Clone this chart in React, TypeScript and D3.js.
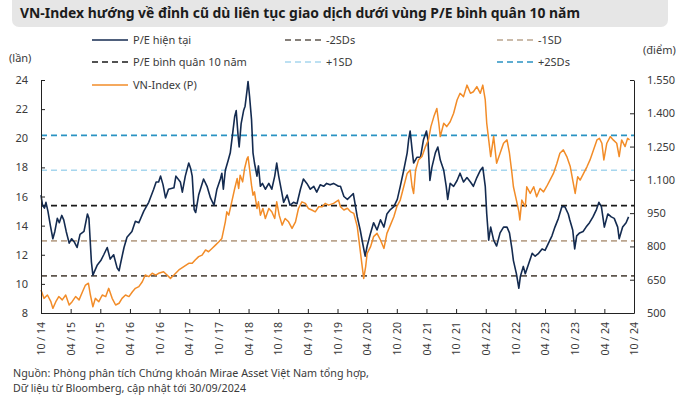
import { useEffect, useRef } from 'react'
import * as d3 from 'd3'

// months counted from 10/2014
const xTickLabels = [
  '10 / 14', '04 / 15', '10 / 15', '04 / 16', '10 / 16', '04 / 17', '10 / 17',
  '04 / 18', '10 / 18', '04 / 19', '10 / 19', '04 / 20', '10 / 20', '04 / 21',
  '10 / 21', '04 / 22', '10 / 22', '04 / 23', '10 / 23', '04 / 24', '10 / 24',
]
const leftTicks = [8, 10, 12, 14, 16, 18, 20, 22, 24]
const rightTicks = [500, 650, 800, 950, 1100, 1250, 1400, 1550]

// P/E bands
const bandValues = [10.55, 12.95, 15.37, 17.8, 20.2]
const bandNames = ['-2SDs', '-1SD', 'P/E bình quân 10 năm', '+1SD', '+2SDs']
const bandColors = ['#5e554d', '#bba58f', '#1a1a1a', '#a6d6ee', '#2a93c2']

// [month, P/E]
const peSeries: [number, number][] = [
  [0, 16.1], [0.3, 15.4], [0.7, 15.2], [1, 15.6], [1.4, 15.0], [1.9, 14.0], [2.4, 13.1], [2.8, 13.6],
  [3.3, 14.5], [3.7, 14.2], [4.2, 14.7], [4.6, 14.4], [5.1, 13.6], [5.7, 12.8], [6.2, 13.1], [6.7, 12.9],
  [7.3, 12.5], [7.9, 13.4], [8.7, 13.6], [9.4, 14.8], [9.7, 14.5], [10.2, 11.5], [10.5, 10.6], [11.4, 11.3],
  [12.1, 11.6], [12.7, 12.0], [13.4, 12.5], [14, 11.7], [14.7, 12.0], [15.4, 11.1], [15.8, 10.9], [16.1, 11.4],
  [16.8, 12.5], [17.4, 13.2], [18.4, 13.6], [19.1, 14.3], [19.8, 14.2], [20.8, 15.0], [21.8, 15.6], [22.8, 16.5],
  [23.3, 17.0], [23.8, 17.0], [24.2, 17.4], [24.7, 16.8], [25.2, 15.9], [25.8, 16.5], [26.9, 16.6], [27.3, 17.4],
  [28.2, 17.0], [28.6, 16.3], [29.2, 17.4], [29.9, 18.3], [30.3, 17.9], [30.6, 17.4], [31, 15.1], [31.3, 14.9],
  [31.9, 16.1], [32.9, 17.2], [33.6, 16.7], [34.3, 15.9], [35, 15.4], [35.6, 16.5], [36.3, 17.2], [36.6, 17.6],
  [36.9, 16.5], [37.3, 17.8], [37.9, 18.5], [38.3, 19.0], [38.7, 20.1], [39.2, 21.5], [39.5, 21.9], [39.9, 20.1],
  [40.1, 19.4], [40.5, 21.0], [41, 21.9], [41.3, 22.2], [41.7, 23.3], [41.9, 23.9], [42.2, 22.9], [42.6, 21.3],
  [42.9, 19.0], [43.2, 18.3], [43.7, 17.4], [44, 18.1], [44.4, 16.7], [44.8, 16.9], [45.4, 16.5], [46.1, 16.9],
  [46.7, 16.5], [47.3, 17.4], [47.7, 18.3], [48.1, 17.4], [48.6, 16.5], [49.1, 15.6], [49.8, 16.1], [50.4, 15.4],
  [51.1, 15.6], [51.8, 15.5], [52.5, 16.5], [53.1, 17.2], [53.8, 16.9], [54.5, 16.5], [55.2, 16.7], [55.8, 16.3],
  [56.5, 16.8], [57.2, 16.7], [57.8, 16.9], [58.5, 16.8], [59.2, 16.9], [60.2, 16.7], [60.6, 16.7], [61.3, 16.0],
  [62, 15.8], [62.6, 16.0], [63.2, 16.2], [63.4, 15.8], [64, 14.6], [64.6, 13.7], [65.2, 12.6], [65.6, 11.9],
  [66, 12.6], [66.7, 13.5], [67.3, 14.2], [68, 13.7], [68.7, 14.4], [69.4, 13.9], [70, 14.8], [70.7, 15.1],
  [71.4, 15.3], [72.1, 15.8], [72.7, 16.7], [73.4, 17.8], [74.1, 19.0], [74.4, 19.9], [74.7, 20.5], [75.1, 19.2],
  [75.4, 18.3], [76.1, 18.7], [76.8, 18.7], [77.4, 19.9], [78, 20.5], [78.3, 19.9], [78.7, 17.1], [79.1, 18.0],
  [79.8, 19.0], [80.3, 19.4], [80.8, 18.5], [81.5, 17.8], [82, 16.7], [82.3, 15.8], [82.8, 16.9], [83.5, 16.7],
  [84.2, 17.1], [84.8, 17.6], [85.5, 17.0], [86.2, 17.3], [86.9, 17.0], [87.5, 16.7], [88.2, 17.3], [88.9, 17.8],
  [89.4, 18.0], [89.9, 16.7], [90.2, 14.8], [90.6, 13.0], [91, 13.9], [91.6, 13.0], [92.2, 12.6], [92.9, 13.5],
  [93.6, 13.9], [94.3, 13.9], [94.8, 13.5], [95.3, 12.4], [95.6, 11.6], [96.2, 10.7], [96.7, 9.7], [97, 10.5],
  [97.6, 11.2], [98, 10.7], [98.7, 11.4], [99.4, 12.1], [100, 11.9], [100.7, 12.1], [101.4, 12.4], [102, 12.3],
  [102.7, 12.8], [103.4, 13.3], [104, 13.9], [104.7, 14.5], [105.4, 15.3], [106, 15.3], [106.7, 14.8], [107, 14.4],
  [107.6, 13.7], [108, 12.4], [108.4, 13.3], [109, 13.5], [109.7, 13.6], [110.3, 13.9], [111, 14.2], [111.7, 14.6],
  [112.4, 15.1], [112.9, 15.6], [113.4, 15.3], [114, 13.9], [114.7, 14.8], [115.4, 14.6], [116, 14.5], [116.7, 13.9],
  [117, 13.1], [117.7, 13.9], [118.4, 14.2], [118.9, 14.6],
]

// [month, VN-Index points]
const vnSeries: [number, number][] = [
  [0, 604], [0.6, 566], [1.3, 581], [2, 551], [2.4, 521], [3, 551], [3.6, 574], [4.3, 559],
  [5, 581], [5.7, 536], [6.3, 551], [7, 574], [7.7, 559], [8.4, 596], [9, 626], [9.6, 634],
  [10, 581], [10.5, 528], [11, 566], [11.7, 551], [12.4, 581], [13.1, 574], [13.7, 611], [14.4, 566],
  [15.1, 536], [15.8, 544], [16.4, 566], [17.1, 581], [17.8, 574], [18.5, 596], [19.1, 611], [19.8, 619],
  [20.5, 641], [21.1, 671], [21.8, 664], [22.5, 679], [23.2, 671], [23.8, 679], [24.8, 686], [25.5, 671],
  [26.2, 656], [26.9, 671], [27.9, 694], [28.9, 709], [29.9, 724], [30.6, 724], [31.2, 739], [31.9, 754],
  [32.6, 761], [33.3, 784], [33.9, 776], [34.6, 791], [35.3, 806], [36, 821], [36.6, 836], [37.3, 911],
  [37.6, 956], [38, 941], [38.6, 1001], [39.2, 1061], [39.7, 1106], [40, 1061], [40.3, 1121], [40.8, 1091],
  [41.2, 1151], [41.7, 1196], [41.9, 1204], [42.2, 1151], [42.6, 1076], [42.9, 1031], [43.2, 1046], [43.7, 971],
  [44, 1001], [44.4, 941], [44.9, 971], [45.4, 926], [46.1, 971], [46.7, 956], [47.3, 926], [47.7, 1001],
  [48.2, 941], [48.8, 896], [49.4, 926], [50.1, 911], [50.8, 881], [51.5, 911], [52.1, 971], [52.8, 1001],
  [53.5, 994], [54.1, 971], [54.8, 964], [55.5, 956], [56.2, 979], [56.9, 979], [57.5, 994], [58.2, 986],
  [59.2, 994], [60.2, 1009], [60.6, 979], [61.3, 964], [62, 972], [62.6, 957], [63.3, 949], [64, 889],
  [64.5, 799], [65, 709], [65.3, 656], [65.7, 709], [66, 769], [66.7, 799], [67.3, 844], [68, 859],
  [68.7, 829], [69.4, 791], [70, 859], [70.7, 896], [71.4, 934], [72, 979], [72.7, 1009], [73.4, 1069],
  [74.1, 1129], [74.7, 1144], [75.1, 1069], [75.4, 1039], [75.8, 1144], [76.4, 1190], [77.1, 1205], [77.8, 1250],
  [78.4, 1280], [78.9, 1340], [79.5, 1385], [80.1, 1422], [80.5, 1355], [80.8, 1295], [81.5, 1355], [82.1, 1340],
  [82.8, 1362], [83.5, 1400], [84.2, 1460], [84.8, 1490], [85.5, 1475], [86.2, 1527], [86.9, 1490], [87.5, 1497],
  [88.2, 1520], [88.9, 1490], [89.4, 1527], [89.9, 1460], [90.2, 1355], [90.6, 1280], [91, 1205], [91.6, 1295],
  [92.2, 1175], [92.9, 1220], [93.6, 1265], [94.3, 1280], [94.8, 1220], [95.3, 1129], [95.6, 1069], [96.2, 1009],
  [96.7, 957], [96.9, 919], [97.3, 1009], [98, 979], [98.3, 1069], [99, 1039], [99.7, 1069], [100.3, 1024],
  [101, 1061], [101.7, 1046], [102.3, 1069], [103, 1099], [103.7, 1129], [104.4, 1175], [105, 1220], [105.7, 1235],
  [106.4, 1205], [107.1, 1160], [107.6, 1099], [108.1, 1039], [108.6, 1114], [109.1, 1099], [109.8, 1129], [110.5, 1160],
  [111.1, 1190], [111.8, 1235], [112.5, 1280], [113, 1287], [113.5, 1265], [113.9, 1190], [114.5, 1265], [115.2, 1295],
  [115.8, 1280], [116.5, 1265], [117, 1205], [117.5, 1280], [118.2, 1250], [118.7, 1287], [119.1, 1280],
]

const PE_COLOR = '#142b50'
const VN_COLOR = '#f28c28'
const FONT = '"Noto Sans", sans-serif'
const TEXT = '#3a3a3a'

export default function App() {
  const svgRef = useRef<SVGSVGElement>(null)

  useEffect(() => {
    if (!svgRef.current) return
    d3.select(svgRef.current).selectAll('*').remove()

    const svg = d3.select(svgRef.current)
    const width = 679
    const height = 395
    svg.attr('width', width).attr('height', height).style('font-family', FONT)

    const x0 = 41, x1 = 634, yTop = 80, yBottom = 313

    const x = d3.scaleLinear().domain([0, 120]).range([x0, x1])
    const yL = d3.scaleLinear().domain([8, 24]).range([yBottom, yTop])
    const yR = d3.scaleLinear().domain([500, 1550]).range([yBottom, yTop])
    const fmt = d3.formatLocale({ decimal: ',', thousands: '.', grouping: [3], currency: ['', ''] }).format(',')

    // title
    svg.append('rect')
      .attr('x', 12).attr('y', -8).attr('width', 656).attr('height', 35).attr('rx', 7)
      .attr('fill', '#e6e6e6')
    svg.append('text')
      .attr('x', 20).attr('y', 18)
      .attr('font-size', 14).attr('font-weight', 'bold').attr('fill', '#1c1c1c')
      .attr('textLength', 560).attr('lengthAdjust', 'spacingAndGlyphs')
      .text('VN-Index hướng về đỉnh cũ dù liên tục giao dịch dưới vùng P/E bình quân 10 năm')

    // unit labels
    svg.append('text').attr('x', 9).attr('y', 62).attr('font-size', 11).attr('fill', TEXT).text('(lần)')
    svg.append('text').attr('x', 643).attr('y', 54).attr('font-size', 11).attr('fill', TEXT).text('(điểm)')

    // band lines
    bandValues.forEach((v, i) => {
      svg.append('line')
        .attr('x1', x0).attr('x2', x1).attr('y1', yL(v)).attr('y2', yL(v))
        .attr('stroke', bandColors[i]).attr('stroke-width', 1.6).attr('stroke-dasharray', '6,4')
    })

    const peLine = d3.line<[number, number]>().x((d) => x(d[0])).y((d) => yL(d[1]))
    const vnLine = d3.line<[number, number]>().x((d) => x(d[0])).y((d) => yR(d[1]))

    svg.append('path').datum(peSeries)
      .attr('fill', 'none').attr('stroke', PE_COLOR).attr('stroke-width', 1.6)
      .attr('stroke-linejoin', 'round').attr('d', peLine)
    svg.append('path').datum(vnSeries)
      .attr('fill', 'none').attr('stroke', VN_COLOR).attr('stroke-width', 1.5)
      .attr('stroke-linejoin', 'round').attr('d', vnLine)

    // axes
    const styleAxis = (g: any) => {
      g.selectAll('path').attr('stroke', '#222')
      g.selectAll('line').attr('stroke', '#222')
      g.selectAll('text').attr('fill', TEXT).style('font-family', FONT)
    }

    svg.append('g')
      .attr('transform', `translate(${x0},0)`)
      .call(d3.axisLeft(yL).tickValues(leftTicks).tickSize(-4).tickSizeOuter(0).tickPadding(13))
      .attr('font-size', 11)
      .call(styleAxis)

    svg.append('g')
      .attr('transform', `translate(${x1},0)`)
      .call(d3.axisRight(yR).tickValues(rightTicks).tickSize(-4).tickSizeOuter(0).tickPadding(13).tickFormat((d: any) => fmt(d)))
      .attr('font-size', 11)
      .call(styleAxis)

    const xTicks = xTickLabels.map((_, i) => i * 6)
    const xg = svg.append('g')
      .attr('transform', `translate(0,${yBottom})`)
      .call(d3.axisBottom(x).tickValues(xTicks).tickSize(-4).tickSizeOuter(0).tickFormat((_, i) => xTickLabels[i]))
      .attr('font-size', 10.5)
      .call(styleAxis)
    xg.selectAll('text')
      .attr('transform', 'rotate(-90)')
      .attr('x', -9).attr('y', 0).attr('dy', '0.35em')
      .style('text-anchor', 'end')

    // legend
    const legend = [
      { label: 'P/E hiện tại', color: PE_COLOR, dash: null, lx: 92, ly: 40 },
      { label: bandNames[0], color: bandColors[0], dash: '6,4', lx: 285, ly: 40 },
      { label: bandNames[1], color: bandColors[1], dash: '6,4', lx: 497, ly: 40 },
      { label: bandNames[2], color: bandColors[2], dash: '6,4', lx: 92, ly: 62 },
      { label: bandNames[3], color: bandColors[3], dash: '6,4', lx: 285, ly: 62 },
      { label: bandNames[4], color: bandColors[4], dash: '6,4', lx: 497, ly: 62 },
      { label: 'VN-Index (P)', color: VN_COLOR, dash: null, lx: 92, ly: 85 },
    ]
    legend.forEach((l) => {
      svg.append('line')
        .attr('x1', l.lx).attr('x2', l.lx + 36).attr('y1', l.ly).attr('y2', l.ly)
        .attr('stroke', l.color).attr('stroke-width', 1.6)
        .attr('stroke-dasharray', l.dash ?? null)
      svg.append('text')
        .attr('x', l.lx + 41).attr('y', l.ly).attr('dy', '0.35em')
        .attr('font-size', 11).attr('fill', TEXT).text(l.label)
    })

    // source note
    svg.append('text').attr('x', 13).attr('y', 377).attr('font-size', 10.5).attr('fill', TEXT)
      .attr('textLength', 356).attr('lengthAdjust', 'spacingAndGlyphs')
      .text('Nguồn: Phòng phân tích Chứng khoán Mirae Asset Việt Nam tổng hợp,')
    svg.append('text').attr('x', 13).attr('y', 392).attr('font-size', 10.5).attr('fill', TEXT)
      .attr('textLength', 233).attr('lengthAdjust', 'spacingAndGlyphs')
      .text('Dữ liệu từ Bloomberg, cập nhật tới 30/09/2024')
  }, [])

  return (
    <div style={{ position: 'absolute', left: 0, top: 0, background: '#fff' }}>
      <svg ref={svgRef} style={{ display: 'block' }} />
    </div>
  )
}
